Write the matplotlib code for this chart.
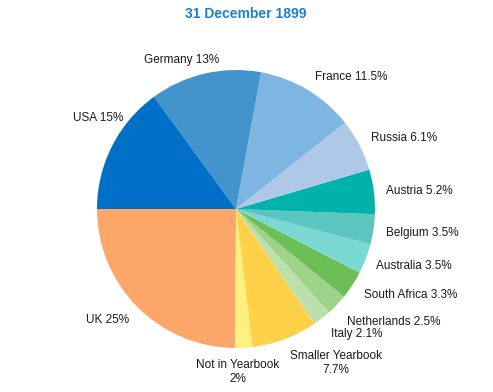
import matplotlib
matplotlib.use("Agg")
import matplotlib.pyplot as plt

plt.rcParams["font.family"] = ["Liberation Sans", "DejaVu Sans"]

# shares, counter-clockwise from 9 o'clock
countries = ["UK", "Not in Yearbook", "Smaller Yearbook", "Italy", "Netherlands",
             "South Africa", "Australia", "Belgium", "Austria", "Russia",
             "France", "Germany", "USA"]
shares = [25, 2, 7.7, 2.1, 2.5, 3.3, 3.5, 3.5, 5.2, 6.1, 11.5, 13, 15]
label_text = ["UK 25%", "Not in Yearbook\n2%", "Smaller Yearbook\n7.7%", "Italy 2.1%",
              "Netherlands 2.5%", "South Africa 3.3%", "Australia 3.5%", "Belgium 3.5%",
              "Austria 5.2%", "Russia 6.1%", "France 11.5%", "Germany 13%", "USA 15%"]

colors = ["#fca66a", "#fdf07e", "#ffd148", "#bce0ad", "#a0d38a", "#6cbf56",
          "#7ad8d5", "#5cc5bf", "#00b2a9", "#afc8e8", "#7db6e1", "#4394cc", "#0070c6"]

# label anchor positions (pie radius = 1) and alignment
label_pos = [(-0.77, -0.80, "right"), (0.01, -1.17, "center"), (0.72, -1.11, "center"),
             (0.68, -0.90, "left"), (0.80, -0.81, "left"), (0.92, -0.62, "left"),
             (1.01, -0.41, "left"), (1.08, -0.17, "left"), (1.08, 0.13, "left"),
             (0.97, 0.51, "left"), (0.57, 0.95, "left"), (-0.39, 1.07, "center"),
             (-0.81, 0.655, "right")]

W, H = 493, 392
cx, cy, r = 236, 209, 139

fig = plt.figure(figsize=(W / 100, H / 100), dpi=100)
ax = fig.add_axes([(cx - r) / W, (H - cy - r) / H, 2 * r / W, 2 * r / H])
ax.pie(shares, colors=colors, startangle=180, counterclock=True,
       wedgeprops=dict(linewidth=0), radius=1)
ax.set_xlim(-1, 1)
ax.set_ylim(-1, 1)
ax.set_aspect("equal")
ax.axis("off")

for txt, (x, y, ha) in zip(label_text, label_pos):
    ax.text(x, y, txt, ha=ha, va="center", fontsize=8.5, color="#1a1a1a",
            linespacing=1.25, clip_on=False)

fig.text(246 / W, 1 - 14 / H, "31 December 1899", ha="center", va="center",
         fontsize=10, fontweight="bold", color="#1e7fd0")

fig.savefig("out.png", dpi=100)
